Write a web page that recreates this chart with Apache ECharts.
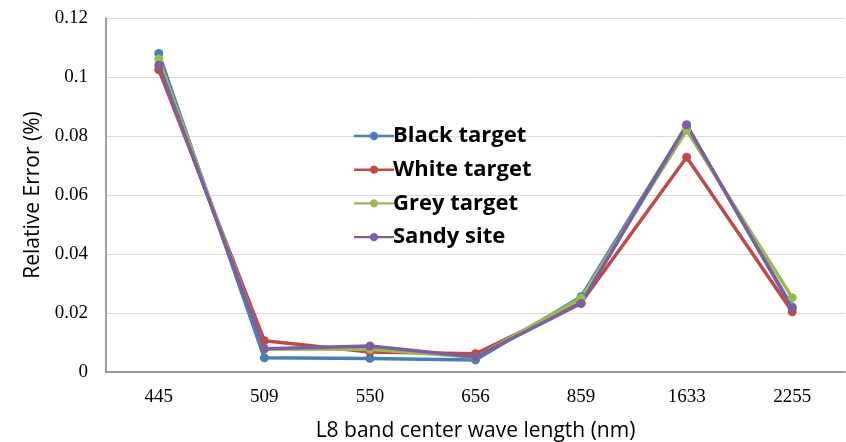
<!DOCTYPE html>
<html><head><meta charset="utf-8">
<script src="https://cdn.jsdelivr.net/npm/echarts@6/dist/echarts.min.js"></script>
<style>html,body{margin:0;padding:0;background:#fff}#c{width:846px;height:442px}</style>
</head><body><div id="c"></div>
<script>
const categories = ['445','509','550','656','859','1633','2255'];
const blackTarget = [0.108, 0.0048, 0.0046, 0.0041, 0.0255, 0.0835, 0.022];
const whiteTarget = [0.1025, 0.0106, 0.0068, 0.0062, 0.0235, 0.0728, 0.0204];
const greyTarget = [0.106, 0.0078, 0.0077, 0.005, 0.025, 0.082, 0.0252];
const sandySite = [0.104, 0.0079, 0.0088, 0.0051, 0.0232, 0.0838, 0.0216];
const seriesNames = ['Black target','White target','Grey target','Sandy site'];
const colors = ['#4a7ebb','#be4b48','#98b954','#7d5fa0'];
const yTicks = ['0','0.02','0.04','0.06','0.08','0.1','0.12'];

const chart = echarts.init(document.getElementById('c'));
const mk = (name, data, color) => ({
  name, type: 'line', data, symbol: 'circle', symbolSize: 9,
  itemStyle: {color}, lineStyle: {color, width: 3.5}
});
chart.setOption({
  animation: false,
  color: colors,
  grid: {left: 106, right: 1, top: 18, bottom: 70, containLabel: false, outerBoundsMode: 'none'},
  legend: {
    orient: 'vertical', left: 349, top: 120, itemGap: 11.7, itemWidth: 40, itemHeight: 24,
    icon: 'path://M0,10.8 L16,10.8 A4.2,4.2 0 0 1 24,10.8 L40,10.8 L40,13.2 L24,13.2 A4.2,4.2 0 0 1 16,13.2 L0,13.2 Z',
    textStyle: {fontFamily: 'Open Sans', fontWeight: 'bold', fontSize: 22, color: '#000', padding: [0,0,0,-6]},
    data: seriesNames
  },
  xAxis: {
    type: 'category', data: categories, boundaryGap: true,
    axisLine: {lineStyle: {color: '#808080', width: 1.5}},
    axisTick: {show: false},
    axisLabel: {fontFamily: 'Liberation Serif', fontSize: 19, color: '#000', margin: 16},
    name: 'L8 band center wave length (nm)', nameLocation: 'middle', nameGap: 49,
    nameTextStyle: {fontFamily: 'Open Sans', fontSize: 21, color: '#000'}
  },
  yAxis: {
    type: 'value', min: 0, max: 0.12, interval: 0.02,
    axisLine: {show: true, lineStyle: {color: '#808080', width: 1.5}},
    axisTick: {show: false},
    splitLine: {lineStyle: {color: '#d9d9d9', width: 1}},
    axisLabel: {fontFamily: 'Liberation Serif', fontSize: 19, color: '#000', margin: 18,
      formatter: v => yTicks[Math.round(v / 0.02)]},
    name: 'Relative Error (%)', nameLocation: 'middle', nameGap: 61, nameRotate: 90,
    nameTextStyle: {fontFamily: 'Open Sans', fontSize: 21, color: '#000'}
  },
  series: [
    mk(seriesNames[0], blackTarget, colors[0]),
    mk(seriesNames[1], whiteTarget, colors[1]),
    mk(seriesNames[2], greyTarget, colors[2]),
    mk(seriesNames[3], sandySite, colors[3])
  ]
});
</script></body></html>
